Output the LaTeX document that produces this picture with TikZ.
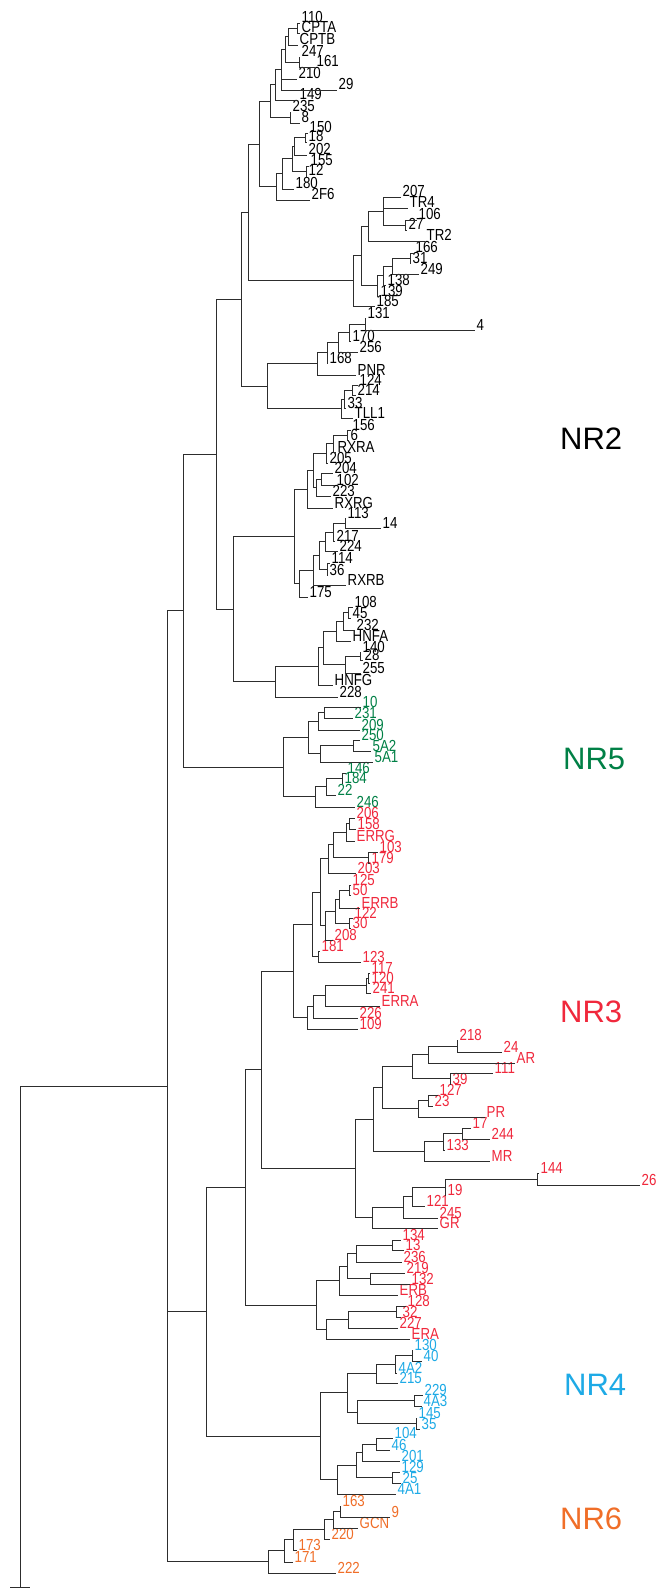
\documentclass[tikz,border=0pt]{standalone}
\usepackage{fontspec}
\setmainfont{Liberation Sans}
\newfontfamily\labfont[FakeStretch=0.83]{Liberation Sans}
\usetikzlibrary{calc}
\definecolor{cgreen}{RGB}{0,128,70}
\definecolor{cred}{RGB}{240,40,60}
\definecolor{cblue}{RGB}{30,170,230}
\definecolor{corange}{RGB}{240,110,40}
\definecolor{brc}{RGB}{45,45,45}
\newcommand\cc{black}
\newcommand\tp[3]{\coordinate (t#1) at (#2pt,-#3pt);\node[lab,text=\cc] (l#1) at ([xshift=1.5pt]t#1) {#1};}
\newcommand\nd[4]{\path let \p1=(#3),\p2=(#4) in coordinate (#1) at (#2pt,{0.5*\y1+0.5*\y2});\draw[br] (#1) |- (#3);\draw[br] (#1) |- (#4);}
\newcommand\ndd[5]{\path let \p1=(#3),\p2=(#5) in coordinate (#1) at (#2pt,{0.5*\y1+0.5*\y2});\draw[br] (#1) |- (#3);\draw[br] (#1) |- (#4);\draw[br] (#1) |- (#5);}
\begin{document}
\begin{tikzpicture}[
  br/.style={draw=brc,line width=0.9pt},
  lab/.style={font=\labfont\fontsize{16}{16}\selectfont,inner sep=0pt,anchor=base west},
  big/.style={font=\fontsize{31}{31}\selectfont,inner sep=0pt,anchor=base west}]
\fill[white] (0,0) rectangle (658pt,-1589pt);
\useasboundingbox (0,0) rectangle (658pt,-1589pt);
% ---------- NR2 (black)
\renewcommand\cc{black}
\tp{110}{300}{23}\tp{CPTA}{300}{33}\tp{CPTB}{298}{45}\tp{247}{300}{57}\tp{161}{315}{67}
\tp{210}{297}{79}\tp{29}{337}{90}\tp{149}{298}{100}\tp{235}{291}{112}\tp{8}{300}{123}
\nd{A1}{297}{t110}{tCPTA}
\nd{A2}{288}{A1}{tCPTB}
\nd{A3}{299}{t247}{t161}
\nd{A4}{285.5}{A2}{A3}
\ndd{A5}{281}{A4}{t210}{t29}
\nd{A6}{275}{A5}{t149}
\nd{A7}{290}{t235}{t8}
\nd{A8}{270}{A6}{A7}
\tp{150}{308}{133}\tp{18}{307}{142}\tp{202}{307}{155}\tp{155}{309}{166}\tp{12}{307}{176}
\tp{180}{294}{189}\tp{2F6}{310}{200}
\nd{B1}{305}{t150}{t18}
\nd{B2}{294}{B1}{t202}
\nd{B3}{306}{t155}{t12}
\nd{B4}{292}{B2}{B3}
\nd{B5}{282}{B4}{t180}
\nd{B6}{276}{B5}{t2F6}
\nd{AB}{259}{A8}{B6}
\tp{207}{401}{197}\tp{TR4}{408}{208}\tp{106}{417}{220}\tp{27}{407}{230}\tp{TR2}{425}{241}
\tp{166}{414}{253}\tp{31}{411}{263}\tp{249}{419}{274}\tp{138}{386}{285}\tp{139}{379}{296}
\tp{185}{375}{306}
\nd{C0}{405}{t106}{t27}
\ndd{C1}{383}{t207}{tTR4}{C0}
\nd{C2}{368}{C1}{tTR2}
\nd{C5a}{410}{t166}{t31}
\nd{C5}{392}{C5a}{t249}
\nd{C6}{383}{C5}{t138}
\nd{C4}{377}{C6}{t139}
\nd{C3}{361}{C2}{C4}
\nd{CC}{353}{C3}{t185}
\nd{ABC}{248}{AB}{CC}
\tp{131}{366}{318}\tp{4}{475}{330}\tp{170}{351}{341}\tp{256}{358}{352}\tp{168}{328}{363}
\tp{PNR}{356}{375}\tp{124}{358}{385}\tp{214}{356}{395}\tp{33}{346}{408}\tp{TLL1}{353}{418}
\nd{D1}{365}{t131}{t4}
\nd{D2}{349}{D1}{t170}
\nd{D3}{338}{D2}{t256}
\nd{D4}{327}{D3}{t168}
\nd{D5}{317}{D4}{tPNR}
\nd{E1}{352}{t124}{t214}
\nd{E2}{344}{E1}{t33}
\nd{D6}{341}{E2}{tTLL1}
\nd{DD}{267}{D5}{D6}
\nd{TOP}{241}{ABC}{DD}
\tp{156}{351}{430}\tp{6}{349}{440}\tp{RXRA}{336}{452}\tp{205}{328}{463}\tp{204}{333}{473}
\tp{102}{335}{485}\tp{223}{331}{496}\tp{RXRG}{333}{508}\tp{113}{346}{518}\tp{14}{381}{528}
\tp{217}{335}{541}\tp{224}{338}{551}\tp{114}{330}{563}\tp{36}{328}{575}\tp{RXRB}{346}{585}
\tp{175}{308}{597}
\nd{R1}{347}{t156}{t6}
\nd{R2}{333}{R1}{tRXRA}
\nd{R3}{326}{R2}{t205}
\nd{R4}{321}{t204}{t102}
\nd{R5}{316}{R4}{t223}
\nd{R6}{313}{R3}{R5}
\nd{R7}{307}{R6}{tRXRG}
\nd{S1}{345}{t113}{t14}
\nd{S2}{333}{S1}{t217}
\nd{S3}{325}{S2}{t224}
\nd{S4}{327}{t114}{t36}
\nd{S5}{319}{S3}{S4}
\nd{S6}{313}{S5}{tRXRB}
\nd{S7}{299}{S6}{t175}
\nd{RXR}{294}{R7}{S7}
\tp{108}{353}{607}\tp{45}{351}{618}\tp{232}{355}{630}\tp{HNFA}{351}{641}\tp{140}{361}{652}
\tp{28}{363}{660}\tp{255}{361}{673}\tp{HNFG}{333}{685}\tp{228}{338}{697}
\nd{H1}{348}{t108}{t45}
\nd{H2}{343}{H1}{t232}
\nd{H3}{336}{H2}{tHNFA}
\nd{H4}{360}{t140}{t28}
\nd{H5}{345}{H4}{t255}
\nd{H6}{323}{H3}{H5}
\nd{H7}{318}{H6}{tHNFG}
\nd{HNF}{275}{H7}{t228}
\nd{RH}{233}{RXR}{HNF}
% ---------- NR5 (green)
\renewcommand\cc{cgreen}
\tp{10}{361}{707}\tp{231}{353}{718}\tp{209}{360}{730}\tp{250}{360}{740}\tp{5A2}{371}{751}
\tp{5A1}{373}{762}\tp{146}{346}{773}\tp{184}{343}{783}\tp{22}{336}{795}\tp{246}{355}{807}
\nd{G3}{324}{t10}{t231}
\nd{G4}{318}{G3}{t209}
\nd{G1}{353}{t250}{t5A2}
\nd{G2}{320}{G1}{t5A1}
\nd{G5}{308}{G4}{G2}
\nd{G6a}{342}{t146}{t184}
\nd{G6}{326}{G6a}{t22}
\nd{G7}{315}{G6}{t246}
\nd{NRv}{283}{G5}{G7}
% ---------- NR3 (red)
\renewcommand\cc{cred}
\tp{206}{355}{818}\tp{158}{356}{829}\tp{ERRG}{355}{841}\tp{103}{378}{852}\tp{179}{370}{863}
\tp{203}{356}{873}\tp{125}{351}{885}\tp{50}{351}{895}\tp{ERRB}{360}{908}\tp{122}{353}{918}
\tp{30}{351}{928}\tp{208}{333}{940}\tp{181}{320}{951}\tp{123}{361}{962}\tp{117}{370}{973}
\tp{120}{370}{983}\tp{241}{371}{993}\tp{ERRA}{380}{1006}\tp{226}{358}{1018}\tp{109}{358}{1029}
\nd{K1}{349}{t206}{t158}
\nd{K2}{346}{K1}{tERRG}
\nd{K3}{368}{t103}{t179}
\nd{K4}{333}{K2}{K3}
\nd{K5}{328}{K4}{t203}
\nd{K6}{349}{t125}{t50}
\nd{K7}{339}{K6}{tERRB}
\nd{K8}{349}{t122}{t30}
\nd{K9}{335}{K7}{K8}
\nd{K10}{325}{K9}{t208}
\nd{K11}{320}{K5}{K10}
\nd{K12}{318}{t181}{t123}
\nd{K13}{312}{K11}{K12}
\nd{X1}{368}{t117}{t120}
\nd{X2}{366}{X1}{t241}
\nd{X3}{325}{X2}{tERRA}
\nd{X4}{313}{X3}{t226}
\nd{X5}{307}{X4}{t109}
\nd{ERR}{293}{K13}{X5}
\tp{218}{458}{1040}\tp{24}{502}{1052}\tp{AR}{515}{1063}\tp{111}{493}{1073}\tp{39}{451}{1084}
\tp{127}{438}{1095}\tp{23}{433}{1106}\tp{PR}{485}{1117}\tp{17}{471}{1128}\tp{244}{490}{1139}
\tp{133}{445}{1150}\tp{MR}{490}{1161}\tp{144}{539}{1173}\tp{26}{640}{1185}\tp{19}{446}{1195}
\tp{121}{425}{1206}\tp{245}{438}{1218}\tp{GR}{438}{1228}
\nd{M1}{457}{t218}{t24}
\nd{M2}{428}{M1}{tAR}
\nd{M3}{450}{t111}{t39}
\nd{M4}{412}{M2}{M3}
\nd{M5}{428}{t127}{t23}
\nd{M6}{418}{M5}{tPR}
\nd{M7}{382}{M4}{M6}
\nd{M8}{462}{t17}{t244}
\nd{M9}{443}{M8}{t133}
\nd{M10}{424}{M9}{tMR}
\nd{M11}{373}{M7}{M10}
\nd{N1}{537}{t144}{t26}
\nd{N2}{445}{N1}{t19}
\nd{N3}{412}{N2}{t121}
\nd{N4}{403}{N3}{t245}
\nd{N5}{372}{N4}{tGR}
\nd{SR}{355}{M11}{N5}
\nd{Q1}{261}{ERR}{SR}
\tp{134}{401}{1240}\tp{13}{404}{1250}\tp{236}{402}{1262}\tp{219}{405}{1273}\tp{132}{410}{1284}
\tp{ERB}{398}{1295}\tp{128}{406}{1306}\tp{32}{401}{1317}\tp{227}{398}{1328}\tp{ERA}{410}{1339}
\nd{O1}{392}{t134}{t13}
\nd{O2}{356}{O1}{t236}
\nd{O3}{370}{t219}{t132}
\nd{O4}{347}{O2}{O3}
\nd{O5}{339}{O4}{tERB}
\nd{O6}{396}{t128}{t32}
\nd{O7}{348}{O6}{t227}
\nd{O8}{326}{O7}{tERA}
\nd{ER}{316}{O5}{O8}
\nd{Q2}{245}{Q1}{ER}
% ---------- NR4 (blue)
\renewcommand\cc{cblue}
\tp{130}{413}{1350}\tp{40}{422}{1361}\tp{4A2}{397}{1373}\tp{215}{398}{1383}\tp{229}{423}{1395}
\tp{4A3}{422}{1406}\tp{145}{417}{1418}\tp{35}{420}{1429}\tp{104}{393}{1438}\tp{46}{390}{1450}
\tp{201}{400}{1461}\tp{129}{400}{1472}\tp{25}{401}{1483}\tp{4A1}{396}{1494}
\nd{F1}{412}{t130}{t40}
\nd{F2}{395}{F1}{t4A2}
\nd{F3}{376}{F2}{t215}
\nd{F4}{414}{t229}{t4A3}
\nd{F5}{416}{t145}{t35}
\nd{F6}{357}{F4}{F5}
\nd{F7}{347}{F3}{F6}
\nd{W1}{376}{t104}{t46}
\nd{W2}{362}{W1}{t201}
\nd{W3}{392}{t129}{t25}
\nd{W4}{356}{W2}{W3}
\nd{W5}{337}{W4}{t4A1}
\nd{NRiv}{320}{F7}{W5}
% ---------- NR6 (orange)
\renewcommand\cc{corange}
\tp{163}{341}{1506}\tp{9}{390}{1517}\tp{GCN}{358}{1528}\tp{220}{330}{1539}\tp{173}{297}{1550}
\tp{171}{293}{1562}\tp{222}{336}{1573}
\nd{I1}{340}{t163}{t9}
\nd{I2}{333}{I1}{tGCN}
\nd{I3}{324}{I2}{t220}
\nd{I4}{293}{I3}{t173}
\nd{I5}{284}{I4}{t171}
\nd{NRvi}{268}{I5}{t222}
% ---------- backbone
\nd{P1}{216}{TOP}{RH}
\nd{U}{183}{P1}{NRv}
\nd{Q3}{206}{Q2}{NRiv}
\ndd{RT}{167}{U}{Q3}{NRvi}
\path let \p1=(RT) in coordinate (root) at (20pt,\y1);
\coordinate (tb) at (20pt,-1587pt);
\coordinate (tbl) at (10pt,-1587pt);
\coordinate (tbr) at (30pt,-1587pt);
\draw[br] (root) -- (RT);
\draw[br] (root) -- (tb);
\draw[br] (tbl) -- (tbr);
% ---------- group labels
\node[big,text=black] (g2) at (560pt,-449pt) {NR2};
\node[big,text=cgreen] (g5) at (563pt,-769pt) {NR5};
\node[big,text=cred] (g3) at (560pt,-1022pt) {NR3};
\node[big,text=cblue] (g4) at (564pt,-1395pt) {NR4};
\node[big,text=corange] (g6) at (560pt,-1529pt) {NR6};
\end{tikzpicture}
\end{document}
